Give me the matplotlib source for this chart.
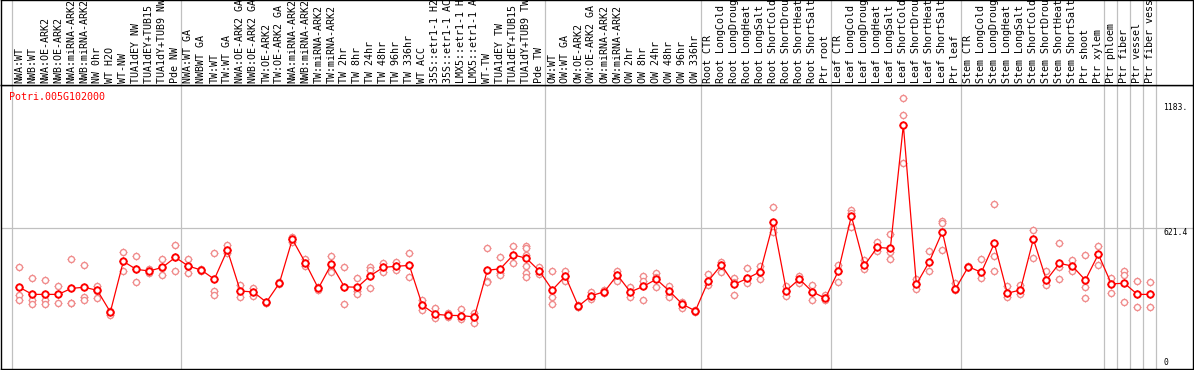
import matplotlib
matplotlib.use("Agg")
import matplotlib.pyplot as plt
from matplotlib.patches import Rectangle
from matplotlib.lines import Line2D

# Sample names (shown vertical in the header)
samples = [
    "NWA:WT", "NWB:WT", "NWA:OE-ARK2", "NWB:OE-ARK2", "NWA:miRNA-ARK2",
    "NWB:miRNA-ARK2", "NW 0hr", "WT H2O", "WT-NW", "TUA1dEY NW",
    "TUA1dEY+TUB15 NW", "TUA1dY+TUB9 NW", "Pde NW",
    "NWA:WT GA", "NWBWT GA", "TW:WT", "TW:WT GA", "NWA:OE-ARK2 GA",
    "NWB:OE-ARK2 GA", "TW:OE-ARK2", "TW:OE-ARK2 GA", "NWA:miRNA-ARK2",
    "NWB:miRNA-ARK2", "TW:miRNA-ARK2", "TW:miRNA-ARK2", "TW 2hr", "TW 8hr",
    "TW 24hr", "TW 48hr", "TW 96hr", "TW 336hr", "WT ACC",
    "35S::etr1-1 H2O", "35S::etr1-1 ACC", "LMX5::etr1-1 H2O",
    "LMX5::etr1-1 ACC", "WT-TW", "TUA1dEY TW", "TUA1dEY+TUB15 TW",
    "TUA1dY+TUB9 TW", "Pde TW",
    "OW:WT", "OW:WT GA", "OW:OE-ARK2", "OW:OE-ARK2 GA", "OW:miRNA-ARK2",
    "OW:miRNA-ARK2", "OW 2hr", "OW 8hr", "OW 24hr", "OW 48hr", "OW 96hr",
    "OW 336hr",
    "Root CTR", "Root LongCold", "Root LongDrought", "Root LongHeat",
    "Root LongSalt", "Root ShortCold", "Root ShortDrought", "Root ShortHeat",
    "Root ShortSalt", "Ptr root",
    "Leaf CTR", "Leaf LongCold", "Leaf LongDrought", "Leaf LongHeat",
    "Leaf LongSalt", "Leaf ShortCold", "Leaf ShortDrought", "Leaf ShortHeat",
    "Leaf ShortSalt", "Ptr leaf",
    "Stem CTR", "Stem LongCold", "Stem LongDrought", "Stem LongHeat",
    "Stem LongSalt", "Stem ShortCold", "Stem ShortDrought", "Stem ShortHeat",
    "Stem ShortSalt", "Ptr shoot", "Ptr xylem",
    "Ptr phloem", "Ptr fiber", "Ptr vessel", "Ptr fiber vessel",
]

# mean expression per sample
means = [
    357, 325, 325, 325, 352, 357, 343, 246, 473, 437, 430, 446, 491,
    452, 434, 393, 524, 340, 336, 290, 375, 572, 467, 352, 460, 359, 357,
    409, 446, 451, 455, 276, 236, 231, 230, 224, 433, 440, 502, 487, 430,
    345, 407, 272, 319, 337, 412, 336, 361, 393, 340, 281, 251,
    386, 457, 370, 397, 427, 648, 342, 394, 337, 307,
    430, 676, 455, 536, 531, 1084, 370, 472, 606, 349,
    449, 424, 554, 330, 345, 573, 389, 464, 452, 389, 505,
    372, 375, 325, 325,
]

# individual replicates per sample
replicates = [
    [446, 322, 301], [397, 300, 281], [388, 300, 283], [361, 325, 288],
    [482, 288, 285], [457, 312, 300], [361, 342, 307], [252, 240, 234],
    [514, 473, 428], [497, 437, 380], [439, 430, 419], [482, 442, 412],
    [545, 491, 431],
    [482, 452, 419], [438, 434, 430], [509, 340, 322], [545, 524, 509],
    [367, 340, 312], [352, 336, 318], [292, 288, 285], [380, 375, 370],
    [584, 572, 561], [482, 467, 452], [360, 352, 345], [498, 455, 427],
    [446, 357, 281], [400, 340, 325], [446, 434, 352], [467, 446, 427],
    [471, 451, 434], [509, 455, 401], [300, 276, 255], [263, 236, 218],
    [240, 231, 222], [259, 230, 213], [243, 230, 198], [532, 385, 382],
    [491, 419, 412], [542, 502, 464], [542, 532, 500, 452, 422, 401],
    [446, 430, 416],
    [430, 315, 281], [430, 407, 386], [277, 270, 268], [334, 319, 306],
    [345, 337, 330], [431, 412, 386], [359, 336, 312], [407, 386, 300],
    [419, 404, 359], [363, 322, 315], [292, 281, 265], [256, 251, 245],
    [416, 386, 367], [471, 457, 427], [397, 382, 321], [442, 397, 375],
    [454, 427, 393], [715, 621, 606], [363, 342, 318], [407, 394, 375],
    [367, 337, 300], [322, 307, 300],
    [457, 430, 382], [703, 691, 628], [479, 455, 437], [561, 536, 521],
    [594, 516, 484], [1204, 1129, 913], [394, 370, 348], [519, 472, 430],
    [654, 644, 524], [375, 349, 345],
    [453, 449, 446], [484, 424, 397], [729, 498, 430], [364, 330, 312],
    [367, 345, 325], [614, 573, 487], [430, 389, 367], [554, 449, 394],
    [479, 452, 430], [501, 359, 307], [543, 505, 457],
    [400, 372, 330], [430, 412, 290], [385, 325, 267], [379, 325, 267],
]

gene = "Potri.005G102000"
group_ends = [-1, 12, 40, 52, 62, 72, 83, 84, 85, 86, 87]
ytick_vals = [0, 621.4, 1183]
ytick_text = ["0", "621.4", "1183."]

W, H = 1194, 370
red = "#ff0000"
pink = "#f08c8c"
grey = "#c0c0c0"
mono = "DejaVu Sans Mono"


def rect(x0, y0, x1, y1):
    return [x0 / W, 1 - y1 / H, (x1 - x0) / W, (y1 - y0) / H]


fig = plt.figure(figsize=(W / 100, H / 100), dpi=100)
ax = fig.add_axes(rect(1, 85, 1193, 369))
hdr = fig.add_axes(rect(1, 0, 1193, 85), sharex=ax)

xs = list(range(len(samples)))
ax.set_xlim(-1.41, 90.28)
ax.set_ylim(-9.4, 1263.5)
hdr.set_ylim(0, 1)

for a in (ax, hdr):
    a.set_xticks([])
    a.set_yticks([])
    for s in a.spines.values():
        s.set_color("black")
        s.set_linewidth(1.0)
    for g in group_ends:
        a.axvline(g + 0.42, color=grey, lw=0.9, zorder=1)

ax.axhline(621.4, color=grey, lw=0.9, zorder=1)

# replicates
for i, reps in enumerate(replicates):
    rx = [i] * len(reps)
    ax.plot(rx, reps, ls="none", marker="+", ms=5.5, mew=0.7, color=pink, zorder=2)
    ax.plot(rx, reps, ls="none", marker="o", ms=4.4, mew=1.0, mec=pink,
            mfc="white", zorder=3)

# mean line
ax.plot(xs, means, color=red, lw=0.9, zorder=4)
ax.plot(xs, means, ls="none", marker="+", ms=6.0, mew=0.9, color=red, zorder=5)
ax.plot(xs, means, ls="none", marker="o", ms=4.6, mew=1.4, mec=red,
        mfc="white", zorder=6)

ax.text(0.007, 0.959, gene, transform=ax.transAxes, color=red,
        fontsize=7.2, family=mono, va="center", ha="left")

for v, t in zip(ytick_vals, ytick_text):
    ax.text(88.0, v, t, fontsize=5.8, family=mono, ha="left",
            va="bottom" if v == 0 else "top")

for i, name in enumerate(samples):
    hdr.text(i, 0.02, name, rotation=90, ha="center", va="bottom",
             fontsize=7.2, family=mono, clip_on=True)

fig.savefig("out.png", dpi=100)
